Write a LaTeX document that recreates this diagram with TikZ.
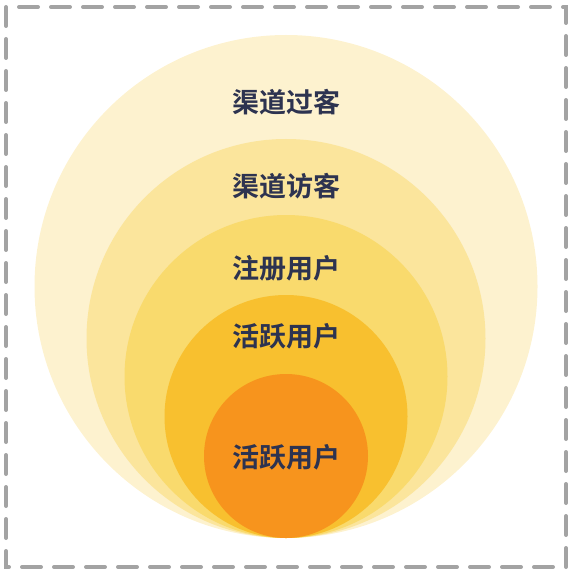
\documentclass[tikz,border=0pt]{standalone}
\usepackage{fontspec}
\newfontfamily\cjk{Noto Sans CJK SC}[BoldFont={Noto Sans CJK SC Bold}]
\usetikzlibrary{positioning}

\definecolor{ringA}{HTML}{FDF2CF}
\definecolor{ringB}{HTML}{FBE59C}
\definecolor{ringC}{HTML}{F9DA6D}
\definecolor{ringD}{HTML}{F8C02F}
\definecolor{ringE}{HTML}{F7941D}
\definecolor{labeltext}{HTML}{2D3350}
\definecolor{framegray}{HTML}{A3A3A3}

\tikzset{
    ring/.style={circle, inner sep=0pt, minimum size=#1},
    ringlabel/.style={font=\cjk\bfseries\fontsize{27pt}{30pt}\selectfont, text=labeltext}
}

\begin{document}
\begin{tikzpicture}[x=1pt, y=-1pt]
        \useasboundingbox (0, 0) rectangle (572, 572);
        \draw[framegray, line width=4pt, line cap=round, dash pattern=on 19pt off 13pt] (6, 7) rectangle (566, 567);

        \node[ring=503pt, fill=ringA] (guoke) at (286, 286.5) {};
        \node[ring=399pt, fill=ringB] (fangke) at (286, 338.5) {};
        \node[ring=323pt, fill=ringC] (zhuce) at (286, 376.5) {};
        \node[ring=243pt, fill=ringD] (huoyue) at (286, 416.5) {};
        \node[ring=164pt, fill=ringE] (hexin) at (286, 456) {};

        \node[ringlabel] (guoke-text) at (286, 102) {渠道过客};
        \node[ringlabel] (fangke-text) at (286, 186) {渠道访客};
        \node[ringlabel] (zhuce-text) at (286, 268) {注册用户};
        \node[ringlabel] (huoyue-text) at (286, 336) {活跃用户};
        \node[ringlabel] (hexin-text) at (286, 457) {活跃用户};
    \end{tikzpicture}
\end{document}
